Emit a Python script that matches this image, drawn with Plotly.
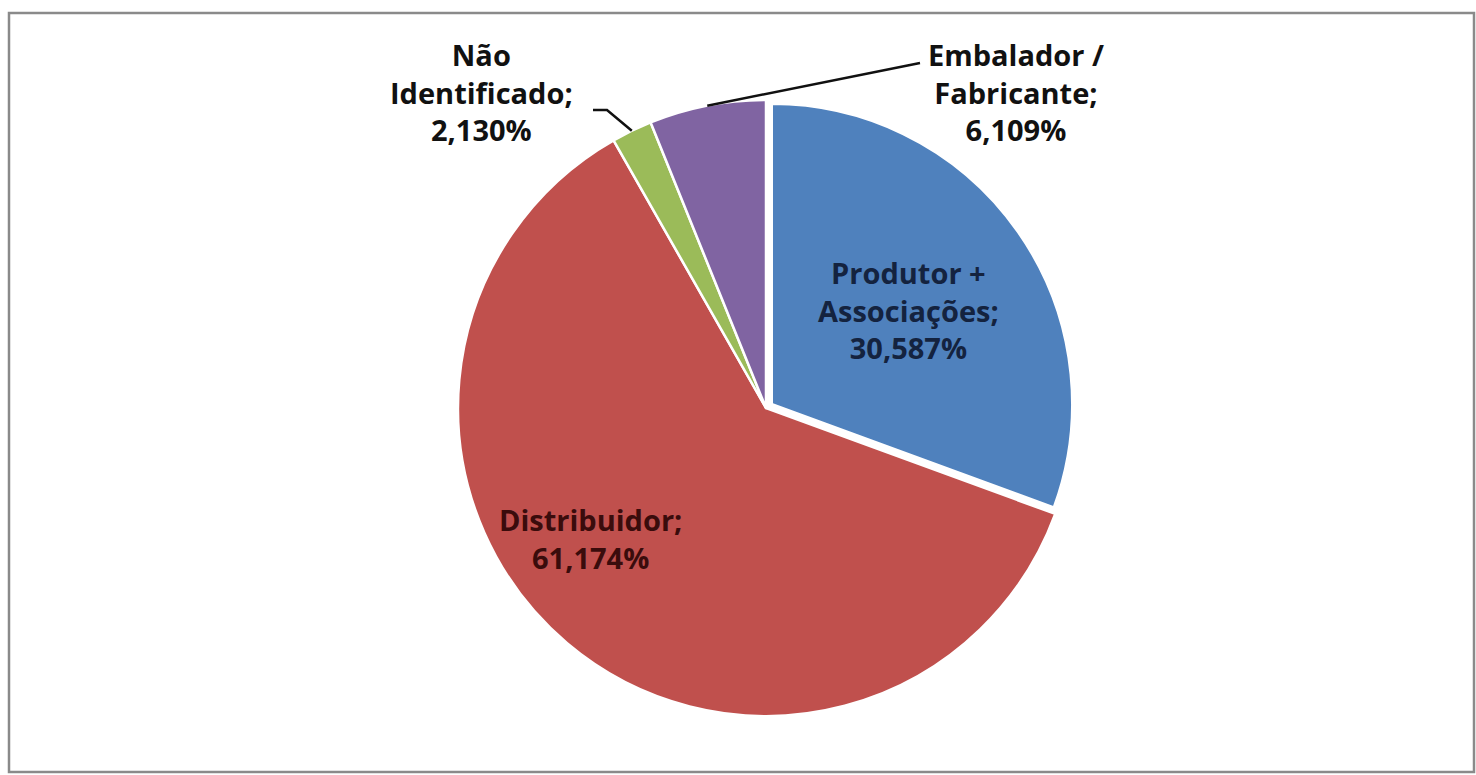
import math
import plotly.graph_objects as go

W, H = 1476, 775

# Data
categories = ["Produtor + Associações", "Distribuidor", "Não Identificado", "Embalador / Fabricante"]
shares = [30.587, 61.174, 2.130, 6.109]
slice_colors = ["#4F81BD", "#C0504D", "#9BBB59", "#8064A2"]
label_text = [
    "Produtor +<br>Associações;<br>30,587%",
    "Distribuidor;<br>61,174%",
    "Não<br>Identificado;<br>2,130%",
    "Embalador /<br>Fabricante;<br>6,109%",
]
label_colors = ["#14233f", "#3a0c0c", "#111111", "#111111"]

CLEAR = "rgba(0,0,0,0)"

# Main pie body (pixels) and the exploded first slice
cx, cy, R = 766, 408, 308
ex_cx, ex_cy, ex_R = 772, 404, 300


def domain_for(x, y, r):
    return dict(x=[(x - r) / W, (x + r) / W], y=[(H - y - r) / H, (H - y + r) / H])


fig = go.Figure()
# Remaining slices
fig.add_trace(go.Pie(
    labels=categories, values=shares, sort=False, direction="clockwise", rotation=0,
    marker=dict(colors=[CLEAR] + slice_colors[1:],
                line=dict(color=[CLEAR, "white", "white", "white"], width=2.5)),
    textinfo="none", hoverinfo="label+percent", showlegend=False,
    domain=domain_for(cx, cy, R),
))
# Exploded slice
fig.add_trace(go.Pie(
    labels=categories, values=shares, sort=False, direction="clockwise", rotation=0,
    marker=dict(colors=[slice_colors[0], CLEAR, CLEAR, CLEAR],
                line=dict(color=["white", CLEAR, CLEAR, CLEAR], width=2)),
    textinfo="none", hoverinfo="skip", showlegend=False,
    domain=domain_for(ex_cx, ex_cy, ex_R),
))


def mid_angle(i):
    """Mid angle (radians, clockwise from 12 o'clock) of slice i."""
    total = sum(shares)
    start = sum(shares[:i]) / total
    return 2 * math.pi * (start + shares[i] / total / 2)


def on_pie(i, frac):
    a = mid_angle(i)
    return cx + frac * R * math.sin(a), cy - frac * R * math.cos(a)


font_family = "'Open Sans', Lato, sans-serif"
fsize = 29


def label(i, x, y):
    fig.add_annotation(x=x, y=y, xref="x", yref="y", text=label_text[i], showarrow=False,
                       font=dict(family=font_family, size=fsize, color=label_colors[i], weight=700),
                       align="center")


label(0, 908, 310)
label(1, 590, 538)
label(2, 481, 92)
label(3, 1016, 92)

# Leader lines
gx, gy = on_pie(2, 1.0)
fig.add_shape(type="path", xref="x", yref="y",
              path=f"M 593 110 L 607 110 L {gx:.1f} {gy:.1f}",
              line=dict(color="#111111", width=2.5))
px_, py_ = on_pie(3, 1.0)
fig.add_shape(type="line", xref="x", yref="y", x0=920, y0=63, x1=px_, y1=py_,
              line=dict(color="#111111", width=2.5))

# Outer frame
fig.add_shape(type="rect", xref="x", yref="y", x0=9, y0=13, x1=1474, y1=772,
              line=dict(color="#8a8a8a", width=2.5), fillcolor=CLEAR, layer="below")

fig.update_layout(
    width=W, height=H,
    margin=dict(l=0, r=0, t=0, b=0),
    paper_bgcolor="white", plot_bgcolor=CLEAR,
    xaxis=dict(range=[0, W], visible=False, fixedrange=True),
    yaxis=dict(range=[H, 0], visible=False, fixedrange=True),
)

fig.write_html("out.html", config={"displayModeBar": False})
